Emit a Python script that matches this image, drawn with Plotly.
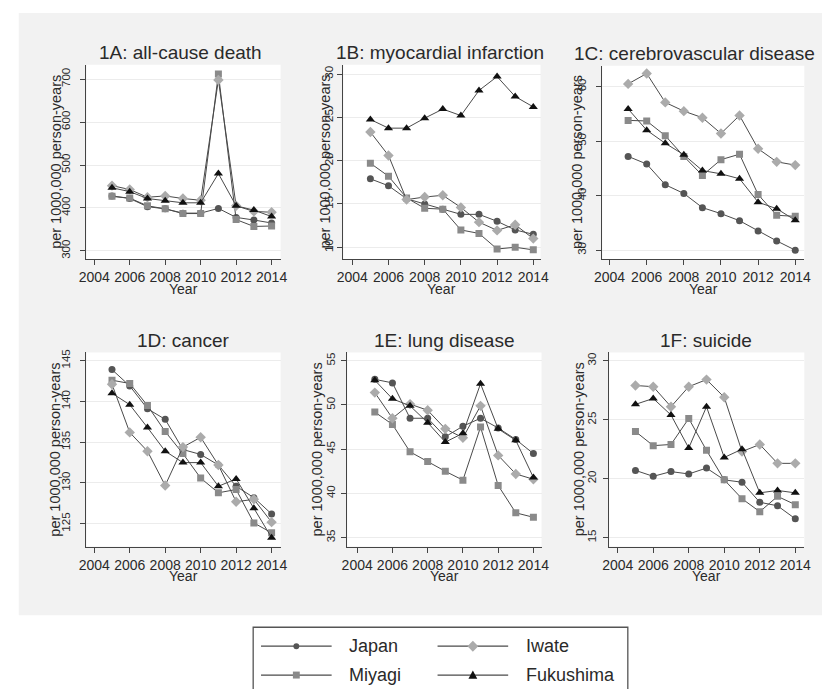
import plotly.graph_objects as go

W, H = 830, 689

YEARS = [2005, 2006, 2007, 2008, 2009, 2010, 2011, 2012, 2013, 2014]
SERIES = ["Japan", "Miyagi", "Iwate", "Fukushima"]
X_TICKS = [2004, 2006, 2008, 2010, 2012, 2014]

# 1A: all-cause death
A_JAPAN = [428, 422, 403, 398, 388, 388, 399, 378, 372, 365]
A_MIYAGI = [427, 423, 405, 398, 387, 387, 712, 373, 357, 358]
A_IWATE = [452, 443, 425, 428, 422, 418, 698, 405, 392, 390]
A_FUKUSHIMA = [447, 438, 422, 417, 412, 412, 480, 405, 395, 380]
A_TICKS = [300, 400, 500, 600, 700]

# 1B: myocardial infarction
B_JAPAN = [17.9, 17.1, 15.6, 15.0, 14.4, 13.8, 13.8, 13.0, 12.0, 11.5]
B_MIYAGI = [19.7, 18.2, 15.7, 14.5, 14.4, 12.0, 11.6, 9.8, 10.0, 9.7]
B_IWATE = [23.3, 20.6, 15.5, 15.8, 16.0, 14.6, 12.9, 11.95, 12.6, 11.0]
B_FUKUSHIMA = [24.75, 23.75, 23.75, 24.9, 25.95, 25.2, 28.1, 29.7, 27.4, 26.2]
B_TICKS = [10, 15, 20, 25, 30]

# 1C: cerebrovascular disease
C_JAPAN = [47.2, 45.8, 42.0, 40.4, 37.8, 36.7, 35.4, 33.5, 31.7, 30.0]
C_MIYAGI = [53.8, 53.7, 51.0, 47.2, 43.7, 46.6, 47.6, 40.2, 36.4, 36.2]
C_IWATE = [60.5, 62.4, 57.1, 55.5, 54.3, 51.4, 54.7, 48.6, 46.2, 45.6]
C_FUKUSHIMA = [55.9, 52.0, 49.6, 47.5, 44.6, 44.0, 43.1, 38.8, 37.6, 35.5]
C_TICKS = [30, 40, 50, 60]

# 1D: cancer
D_JAPAN = [143.9, 141.9, 139.1, 137.8, 134.1, 133.5, 132.2, 129.6, 128.2, 126.2]
D_MIYAGI = [142.6, 142.2, 139.5, 136.3, 133.6, 130.6, 128.8, 129.2, 125.1, 123.9]
D_IWATE = [142.1, 136.2, 133.9, 129.7, 134.4, 135.6, 132.2, 127.7, 128.0, 125.2]
D_FUKUSHIMA = [141.0, 139.6, 136.8, 133.9, 132.5, 132.5, 129.6, 130.5, 126.9, 123.3]
D_TICKS = [125, 130, 135, 140, 145]

# 1E: lung disease
E_JAPAN = [52.9, 52.5, 48.5, 48.5, 46.4, 47.6, 48.5, 47.4, 46.1, 44.5]
E_MIYAGI = [49.2, 47.8, 44.7, 43.6, 42.5, 41.5, 47.5, 40.9, 37.8, 37.3]
E_IWATE = [51.4, 48.5, 50.1, 49.4, 47.3, 46.3, 49.9, 44.3, 42.2, 41.6]
E_FUKUSHIMA = [52.8, 50.7, 49.9, 48.0, 45.8, 46.8, 52.4, 47.3, 46.0, 41.8]
E_TICKS = [35, 40, 45, 50, 55]

# 1F: suicide
F_JAPAN = [20.7, 20.2, 20.6, 20.4, 20.9, 19.9, 19.7, 18.0, 17.7, 16.6]
F_MIYAGI = [24.0, 22.8, 22.9, 25.1, 22.4, 19.9, 18.3, 17.2, 18.5, 17.8]
F_IWATE = [27.9, 27.8, 26.1, 27.8, 28.4, 26.9, 22.3, 22.9, 21.3, 21.3]
F_FUKUSHIMA = [26.3, 26.8, 25.4, 22.6, 26.1, 21.8, 22.5, 18.8, 19.0, 18.8]
F_TICKS = [15, 20, 25, 30]

TITLES = ["1A: all-cause death", "1B: myocardial infarction", "1C: cerebrovascular disease",
          "1D: cancer", "1E: lung disease", "1F: suicide"]
Y_TITLE = "per 1000,000 person-years"
X_TITLE = "Year"

panels = [
    dict(data=[A_JAPAN, A_MIYAGI, A_IWATE, A_FUKUSHIMA], ticks=A_TICKS,
         px=(80, 278), py=(62, 257), xr=(2003.56, 2014.51), yr=(281.5, 733.4),
         ytx=49, tcx=176, tso=6),
    dict(data=[B_JAPAN, B_MIYAGI, B_IWATE, B_FUKUSHIMA], ticks=B_TICKS,
         px=(342, 543), py=(62, 257), xr=(2003.51, 2014.40), yr=(8.66, 31.07),
         ytx=323, tcx=441, tso=0),
    dict(data=[C_JAPAN, C_MIYAGI, C_IWATE, C_FUKUSHIMA], ticks=C_TICKS,
         px=(606, 812), py=(63, 257), xr=(2003.61, 2014.49), yr=(28.4, 63.83),
         ytx=581, tcx=700, tso=6),
    dict(data=[D_JAPAN, D_MIYAGI, D_IWATE, D_FUKUSHIMA], ticks=D_TICKS,
         px=(80, 278), py=(351, 546), xr=(2003.56, 2014.51), yr=(122.2, 146.0),
         ytx=47, tcx=179, tso=6),
    dict(data=[E_JAPAN, E_MIYAGI, E_IWATE, E_FUKUSHIMA], ticks=E_TICKS,
         px=(346, 544), py=(351, 546), xr=(2003.44, 2014.46), yr=(33.98, 55.94),
         ytx=315, tcx=445, tso=2),
    dict(data=[F_JAPAN, F_MIYAGI, F_IWATE, F_FUKUSHIMA], ticks=F_TICKS,
         px=(613, 812), py=(351, 546), xr=(2003.52, 2014.51), yr=(14.24, 30.7),
         ytx=582, tcx=712, tso=2),
]

LINE_COLOR = "#4a4a4a"
STYLES = {
    "Japan": dict(symbol="circle", size=7, color="#555555"),
    "Miyagi": dict(symbol="square", size=7, color="#8a8a8a"),
    "Iwate": dict(symbol="diamond", size=8, color="#ababab"),
    "Fukushima": dict(symbol="triangle-up", size=8, color="#111111"),
}
FONT = "Liberation Sans, Arial, sans-serif"
TEXT_COLOR = "#2a2a2a"


def fx(p):
    return p / W


def fy(p):
    return 1 - p / H


fig = go.Figure()
annotations = []
shapes = []

# gray background area
shapes.append(dict(type="rect", xref="paper", yref="paper", x0=fx(11), x1=fx(830),
                   y0=fy(615), y1=fy(10), fillcolor="#f2f2f2", line=dict(width=0), layer="below"))

for i, p in enumerate(panels):
    n = i + 1
    xa = "x" if n == 1 else f"x{n}"
    ya = "y" if n == 1 else f"y{n}"
    for name, vals in zip(SERIES, p["data"]):
        st = STYLES[name]
        fig.add_trace(go.Scatter(
            x=YEARS, y=vals, mode="lines+markers", name=name, showlegend=False,
            xaxis=xa, yaxis=ya,
            line=dict(color=LINE_COLOR, width=1),
            marker=dict(symbol=st["symbol"], size=st["size"], color=st["color"], line=dict(width=0)),
        ))
    xkey = "xaxis" if n == 1 else f"xaxis{n}"
    ykey = "yaxis" if n == 1 else f"yaxis{n}"
    fig.update_layout(**{
        xkey: dict(domain=[fx(p["px"][0]), fx(p["px"][1])], range=list(p["xr"]), anchor=ya,
                   tickvals=X_TICKS, ticks="outside", ticklen=5, tickcolor="#444",
                   showline=True, linecolor="#444", linewidth=1.3, showgrid=False, zeroline=False,
                   tickfont=dict(family=FONT, size=14, color=TEXT_COLOR), ticklabelstandoff=0),
        ykey: dict(domain=[fy(p["py"][1]), fy(p["py"][0])], range=list(p["yr"]), anchor=xa,
                   tickvals=p["ticks"], ticks="outside", ticklen=5, tickcolor="#444",
                   showline=True, linecolor="#444", linewidth=1.3, showgrid=True,
                   gridcolor="#ececec", gridwidth=1, zeroline=False, tickangle=-90,
                   ticklabelstandoff=p["tso"],
                   tickfont=dict(family=FONT, size=11.5, color=TEXT_COLOR)),
    })
    # white plot background
    shapes.append(dict(type="rect", xref="paper", yref="paper",
                       x0=fx(p["px"][0]), x1=fx(p["px"][1]), y0=fy(p["py"][1]), y1=fy(p["py"][0]),
                       fillcolor="white", line=dict(width=0), layer="below"))
    cx = (p["px"][0] + p["px"][1]) / 2
    annotations.append(dict(text=TITLES[i], x=fx(p["tcx"]), y=fy(p["py"][0] - 12), xref="paper",
                            yref="paper", showarrow=False, xanchor="center", yanchor="middle",
                            font=dict(family=FONT, size=19, color=TEXT_COLOR)))
    annotations.append(dict(text=X_TITLE, x=fx(cx), y=fy(p["py"][1] + 30), xref="paper", yref="paper",
                            showarrow=False, xanchor="center", yanchor="middle",
                            font=dict(family=FONT, size=14, color=TEXT_COLOR)))
    cy = (p["py"][0] + p["py"][1]) / 2
    annotations.append(dict(text=Y_TITLE, x=fx(p["ytx"]), y=fy(cy), xref="paper", yref="paper",
                            showarrow=False, xanchor="center", yanchor="middle", textangle=-90,
                            font=dict(family=FONT, size=14.5, color=TEXT_COLOR)))

# legend box (drawn manually to match the two-column key with long line samples)
shapes.append(dict(type="rect", xref="paper", yref="paper", x0=fx(250), x1=fx(632),
                   y0=fy(700), y1=fy(627), fillcolor="white", line=dict(color="#555", width=1.3)))
legend_pos = {"Japan": (258, 646), "Iwate": (438, 646), "Miyagi": (258, 675), "Fukushima": (438, 675)}
for name in SERIES:
    lx, ly = legend_pos[name]
    st = STYLES[name]
    shapes.append(dict(type="line", xref="paper", yref="paper", x0=fx(lx), x1=fx(lx + 72),
                       y0=fy(ly), y1=fy(ly), line=dict(color=LINE_COLOR, width=1.2)))
    mx = lx + 36
    if st["symbol"] == "circle":
        r = 3
        shapes.append(dict(type="circle", xref="paper", yref="paper", x0=fx(mx - r), x1=fx(mx + r),
                           y0=fy(ly + r), y1=fy(ly - r), fillcolor=st["color"], line=dict(width=0)))
    elif st["symbol"] == "square":
        r = 3.5
        shapes.append(dict(type="rect", xref="paper", yref="paper", x0=fx(mx - r), x1=fx(mx + r),
                           y0=fy(ly + r), y1=fy(ly - r), fillcolor=st["color"], line=dict(width=0)))
    elif st["symbol"] == "diamond":
        r = 5.5
        path = (f"M {fx(mx)} {fy(ly - r)} L {fx(mx + r)} {fy(ly)} L {fx(mx)} {fy(ly + r)} "
                f"L {fx(mx - r)} {fy(ly)} Z")
        shapes.append(dict(type="path", xref="paper", yref="paper", path=path,
                           fillcolor=st["color"], line=dict(width=0)))
    else:
        r = 4.5
        path = (f"M {fx(mx)} {fy(ly - r)} L {fx(mx + r)} {fy(ly + r * 0.8)} "
                f"L {fx(mx - r)} {fy(ly + r * 0.8)} Z")
        shapes.append(dict(type="path", xref="paper", yref="paper", path=path,
                           fillcolor=st["color"], line=dict(width=0)))
    annotations.append(dict(text=name, x=fx(lx + 88), y=fy(ly), xref="paper", yref="paper",
                            showarrow=False, xanchor="left", yanchor="middle",
                            font=dict(family=FONT, size=18, color=TEXT_COLOR)))

fig.update_layout(
    width=W, height=H, margin=dict(l=0, r=0, t=0, b=0),
    paper_bgcolor="white", plot_bgcolor="rgba(0,0,0,0)",
    showlegend=False, shapes=shapes, annotations=annotations,
    font=dict(family=FONT, color=TEXT_COLOR),
)

fig.write_html(
    "out.html",
    config={"displayModeBar": False},
    post_script="document.body.style.margin='0';document.body.style.overflow='hidden';",
)
